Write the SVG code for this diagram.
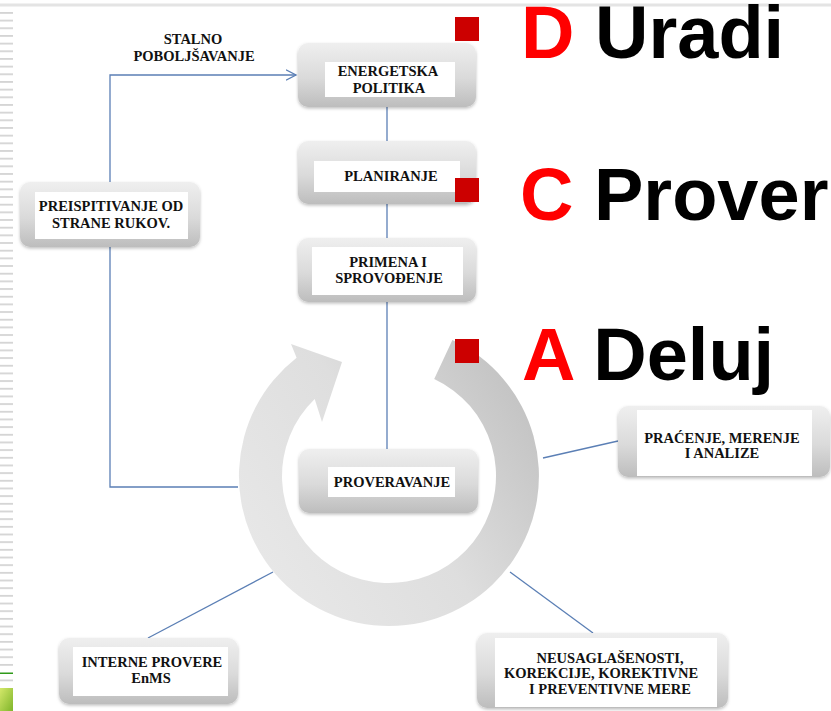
<svg xmlns="http://www.w3.org/2000/svg" width="831" height="711" viewBox="0 0 831 711">
<style>
.box{fill:url(#boxGrad);filter:url(#shadow)}
.inner{fill:#ffffff}
.lbl{font-family:"Liberation Serif","Times New Roman",serif;font-weight:bold;font-size:14.5px;fill:#111111;text-anchor:middle}
.conn{fill:none;stroke:#5b7fb5;stroke-width:1.3}
.big{font-family:"Liberation Sans",Arial,sans-serif;font-weight:bold;font-size:74px;fill:#000000}
.red{fill:#ff0000}
.bullet{fill:#cc0000}
</style>
<defs>
<linearGradient id="boxGrad" x1="0" y1="0" x2="0" y2="1">
<stop offset="0" stop-color="#efefef"/>
<stop offset="0.55" stop-color="#dadada"/>
<stop offset="1" stop-color="#bdbdbd"/>
</linearGradient>
<linearGradient id="ringGrad" x1="0" y1="0.75" x2="1" y2="0.15">
<stop offset="0" stop-color="#e8e8e8"/>
<stop offset="0.5" stop-color="#dedede"/>
<stop offset="1" stop-color="#c0c0c0"/>
</linearGradient>
<linearGradient id="leafGrad" x1="0" y1="0" x2="1" y2="1">
<stop offset="0" stop-color="#d4e86a"/>
<stop offset="1" stop-color="#7fb52a"/>
</linearGradient>
<filter id="shadow" x="-10%" y="-10%" width="120%" height="130%">
<feDropShadow dx="0" dy="1.5" stdDeviation="1.5" flood-color="#000000" flood-opacity="0.25"/>
</filter>
<pattern id="stripes" x="0" y="12" width="14" height="7.67" patternUnits="userSpaceOnUse">
<rect x="0" y="0" width="13" height="1.8" fill="#d4d4d4"/>
</pattern>
<marker id="openArrow" markerWidth="12" markerHeight="12" refX="10" refY="6" orient="auto" markerUnits="userSpaceOnUse">
<path d="M0,0.8 L10,6 L0,11.2" fill="none" stroke="#5b7fb5" stroke-width="1.3"/>
</marker>
</defs>

<!-- page decorations -->
<rect x="0" y="3.5" width="831" height="3" fill="#e4e4e4"/>
<rect x="0" y="12" width="13" height="656" fill="url(#stripes)"/>
<rect x="0" y="672.5" width="13" height="1.5" fill="#2f9a1a"/>
<rect x="0" y="679.5" width="13" height="1.8" fill="#d4d4d4"/>
<rect x="0" y="688" width="13" height="23" fill="url(#leafGrad)"/>

<!-- connectors -->
<g id="connectors">
<path class="conn" d="M110,182 V75 H296" marker-end="url(#openArrow)"/>
<path class="conn" d="M387,107 V141"/>
<path class="conn" d="M387,204 V238"/>
<path class="conn" d="M387,302 V449"/>
<path class="conn" d="M110,247 V487 H238"/>
<path class="conn" d="M543,458 L618,441"/>
<path class="conn" d="M148,638 L273,572"/>
<path class="conn" d="M510,572 L593,633"/>
</g>

<!-- cycle arrow -->
<g id="cycle-arrow">
<path d="M452.4,340.1 A150,150 0 1 1 296.6,357.8 L291,344 L342,362 L322,422 L314.7,399 A107,107 0 1 0 434.2,379 Z" fill="url(#ringGrad)"/>
</g>

<!-- label -->
<g id="label-stalno">
<text class="lbl" x="193" y="44">STALNO</text>
<text class="lbl" x="194" y="61">POBOLJŠAVANJE</text>
</g>

<g id="node-energetska">
<rect class="box" x="298" y="43" width="178" height="64" rx="10"/>
<rect class="inner" x="325" y="62" width="130" height="35"/>
<text class="lbl" x="388" y="76">ENERGETSKA</text>
<text class="lbl" x="389" y="93">POLITIKA</text>
</g>

<g id="node-planiranje">
<rect class="box" x="298" y="141" width="178" height="63" rx="10"/>
<rect class="inner" x="314" y="161" width="146" height="31"/>
<text class="lbl" x="391" y="181">PLANIRANJE</text>
</g>

<g id="node-primena">
<rect class="box" x="298" y="238" width="178" height="64" rx="10"/>
<rect class="inner" x="312" y="247" width="151" height="48"/>
<text class="lbl" x="388" y="267">PRIMENA I</text>
<text class="lbl" x="389" y="283">SPROVOĐENJE</text>
</g>

<g id="node-preispitivanje">
<rect class="box" x="20" y="182" width="180" height="65" rx="10"/>
<rect class="inner" x="35" y="192" width="153" height="47"/>
<text class="lbl" x="111" y="211">PREISPITIVANJE OD</text>
<text class="lbl" x="111" y="228">STRANE RUKOV.</text>
</g>

<g id="node-proveravanje">
<rect class="box" x="299" y="449" width="179" height="64" rx="10"/>
<rect class="inner" x="328" y="467" width="127" height="30"/>
<text class="lbl" x="392" y="487">PROVERAVANJE</text>
</g>

<g id="node-pracenje">
<rect class="box" x="618" y="406" width="212" height="71" rx="10"/>
<rect class="inner" x="637" y="410" width="175" height="66"/>
<text class="lbl" x="722" y="443">PRAĆENJE, MERENJE</text>
<text class="lbl" x="722" y="458">I ANALIZE</text>
</g>

<g id="node-interne">
<rect class="box" x="59" y="638" width="179" height="66" rx="10"/>
<rect class="inner" x="73" y="647" width="155" height="49"/>
<text class="lbl" x="152" y="667">INTERNE PROVERE</text>
<text class="lbl" x="151" y="683">EnMS</text>
</g>

<g id="node-neusaglasenosti">
<rect class="box" x="477" y="633" width="251" height="75" rx="10"/>
<rect class="inner" x="495" y="638" width="222" height="69"/>
<text class="lbl" x="610" y="663">NEUSAGLAŠENOSTI,</text>
<text class="lbl" x="601" y="678">KOREKCIJE, KOREKTIVNE</text>
<text class="lbl" x="610" y="694">I PREVENTIVNE MERE</text>
</g>

<!-- PDCA bullets -->
<g id="bullet-d">
<rect class="bullet" x="455" y="17" width="24" height="24"/>
<text class="big" x="521" y="58"><tspan class="red">D</tspan> Uradi</text>
</g>
<g id="bullet-c">
<rect class="bullet" x="455" y="178" width="24" height="24"/>
<text class="big" x="520" y="220"><tspan class="red">C</tspan> Prover</text>
</g>
<g id="bullet-a">
<rect class="bullet" x="455" y="339" width="24" height="24"/>
<text class="big" x="522" y="380"><tspan class="red">A</tspan> Deluj</text>
</g>
</svg>
